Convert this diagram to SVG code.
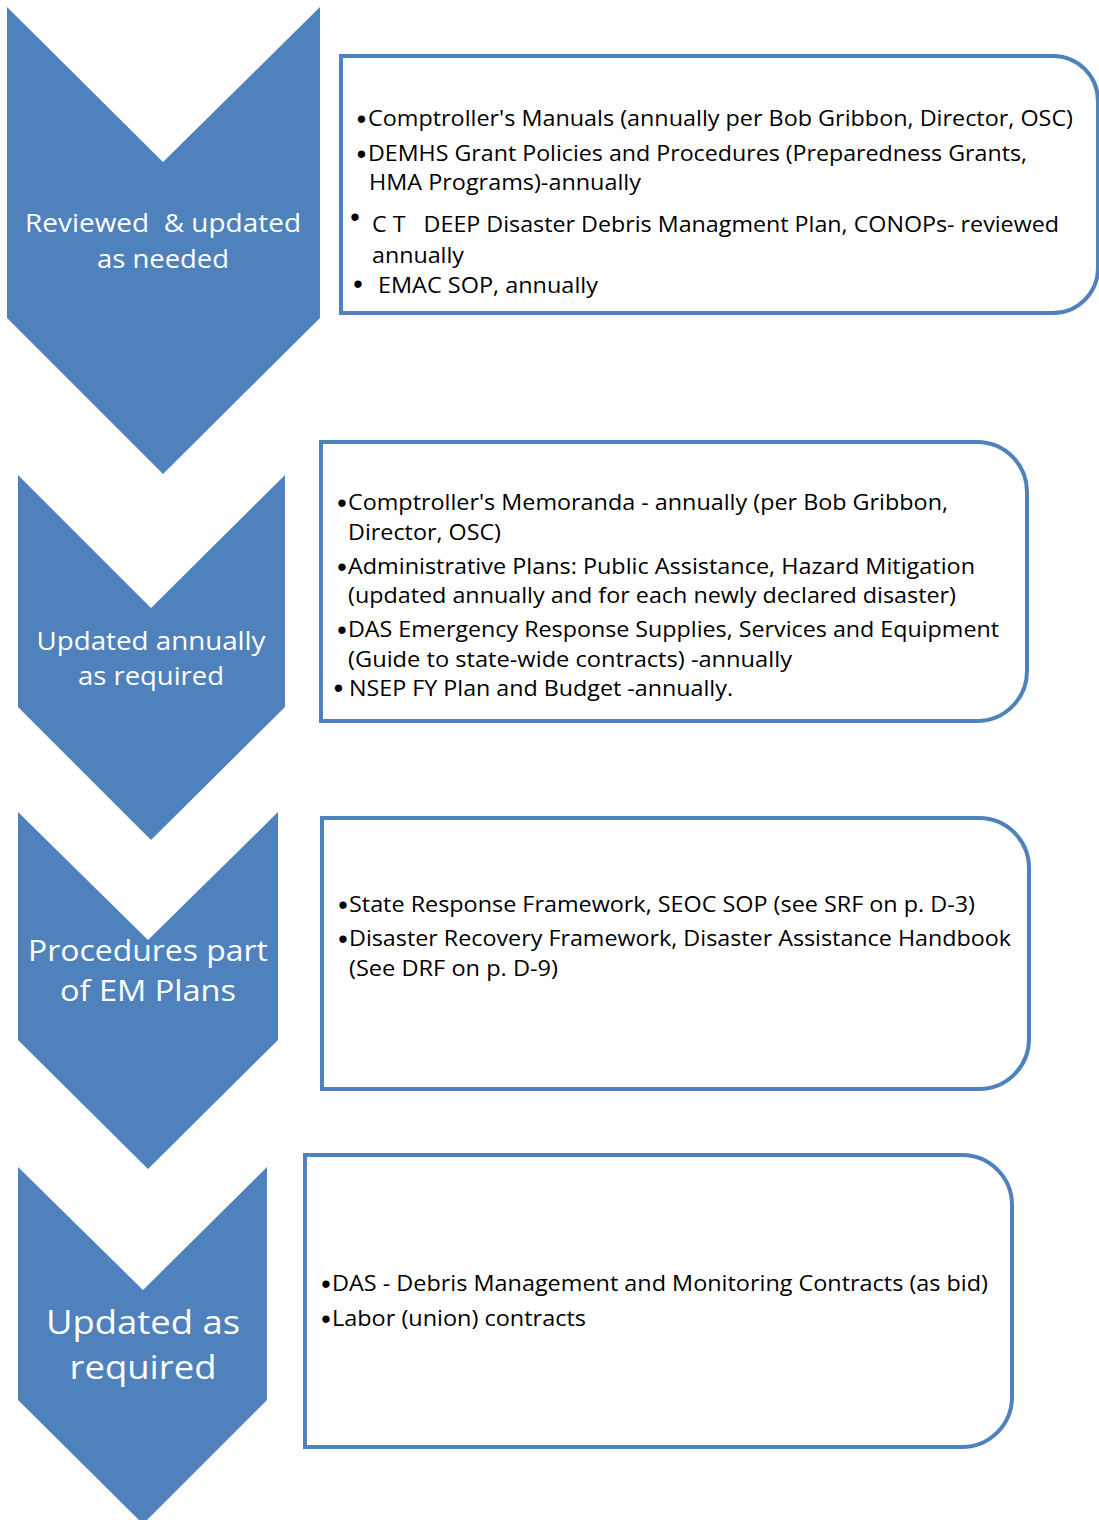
<svg xmlns="http://www.w3.org/2000/svg" width="1099" height="1520" viewBox="0 0 1099 1520">
<style>
.chev{fill:#4F81BD;stroke:none}
.box{fill:#FFFFFF;stroke:#4F81BD;stroke-width:4}
.ct{font-family:"Open Sans","Liberation Sans",sans-serif;fill:#FFFFFF;text-anchor:middle;white-space:pre}
.bt{font-family:"Open Sans","Liberation Sans",sans-serif;font-size:21.5px;fill:#000000;white-space:pre}
.bu{font-family:"Liberation Sans",Arial,sans-serif;font-size:27px;fill:#000000;text-anchor:middle}
</style>
<rect width="1099" height="1520" fill="#FFFFFF"/>
<g id="chevron1">
<polygon class="chev" points="7,7 163,162 320,7 320,318 163,474 7,318"/>
<text class="ct" font-size="25" x="163" y="232" textLength="276" lengthAdjust="spacingAndGlyphs">Reviewed  &amp; updated</text>
<text class="ct" font-size="25" x="163" y="268" textLength="132" lengthAdjust="spacingAndGlyphs">as needed</text>
</g>
<g id="box1">
<path class="box" d="M341,56 H1053 A45,45 0 0 1 1098,101 V268 A45,45 0 0 1 1053,313 H341 Z"/>
<text class="bu" x="361.5" y="127.5">•</text>
<text class="bt" x="368" y="126" textLength="705" lengthAdjust="spacingAndGlyphs">Comptroller's Manuals (annually per Bob Gribbon, Director, OSC)</text>
<text class="bu" x="361.5" y="162.5">•</text>
<text class="bt" x="368" y="161" textLength="659" lengthAdjust="spacingAndGlyphs">DEMHS Grant Policies and Procedures (Preparedness Grants,</text>
<text class="bt" x="369" y="190" textLength="272" lengthAdjust="spacingAndGlyphs">HMA Programs)-annually</text>
<text class="bu" x="355" y="225.5">•</text>
<text class="bt" x="372" y="232" textLength="687" lengthAdjust="spacingAndGlyphs">C T   DEEP Disaster Debris Managment Plan, CONOPs- reviewed</text>
<text class="bt" x="372" y="263" textLength="92" lengthAdjust="spacingAndGlyphs">annually</text>
<text class="bu" x="358" y="292.5">•</text>
<text class="bt" x="378" y="293" textLength="220" lengthAdjust="spacingAndGlyphs">EMAC SOP, annually</text>
</g>
<g id="chevron2">
<polygon class="chev" points="18,475 151,608 285,475 285,707 151,840 18,707"/>
<text class="ct" font-size="25" x="151" y="650" textLength="229" lengthAdjust="spacingAndGlyphs">Updated annually</text>
<text class="ct" font-size="25" x="151" y="685" textLength="146" lengthAdjust="spacingAndGlyphs">as required</text>
</g>
<g id="box2">
<path class="box" d="M321,442 H977 A50,50 0 0 1 1027,492 V671 A50,50 0 0 1 977,721 H321 Z"/>
<text class="bu" x="342" y="511.5">•</text>
<text class="bt" x="348" y="510" textLength="600" lengthAdjust="spacingAndGlyphs">Comptroller's Memoranda - annually (per Bob Gribbon,</text>
<text class="bt" x="348" y="540" textLength="153" lengthAdjust="spacingAndGlyphs">Director, OSC)</text>
<text class="bu" x="342" y="575.5">•</text>
<text class="bt" x="348" y="574" textLength="627" lengthAdjust="spacingAndGlyphs">Administrative Plans: Public Assistance, Hazard Mitigation</text>
<text class="bt" x="348" y="603" textLength="608" lengthAdjust="spacingAndGlyphs">(updated annually and for each newly declared disaster)</text>
<text class="bu" x="342" y="638.5">•</text>
<text class="bt" x="348" y="637" textLength="651" lengthAdjust="spacingAndGlyphs">DAS Emergency Response Supplies, Services and Equipment</text>
<text class="bt" x="348" y="667" textLength="444" lengthAdjust="spacingAndGlyphs">(Guide to state-wide contracts) -annually</text>
<text class="bu" x="338.5" y="696.5">•</text>
<text class="bt" x="349" y="696" textLength="384" lengthAdjust="spacingAndGlyphs">NSEP FY Plan and Budget -annually.</text>
</g>
<g id="chevron3">
<polygon class="chev" points="18,812 148,940 278,812 278,1040 148,1169 18,1040"/>
<text class="ct" font-size="29" x="148" y="961" textLength="240" lengthAdjust="spacingAndGlyphs">Procedures part</text>
<text class="ct" font-size="29" x="148" y="1001" textLength="176" lengthAdjust="spacingAndGlyphs">of EM Plans</text>
</g>
<g id="box3">
<path class="box" d="M322,818 H979 A50,50 0 0 1 1029,868 V1039 A50,50 0 0 1 979,1089 H322 Z"/>
<text class="bu" x="343" y="913.5">•</text>
<text class="bt" x="349" y="912" textLength="626" lengthAdjust="spacingAndGlyphs">State Response Framework, SEOC SOP (see SRF on p. D-3)</text>
<text class="bu" x="343" y="947.5">•</text>
<text class="bt" x="349" y="946" textLength="662" lengthAdjust="spacingAndGlyphs">Disaster Recovery Framework, Disaster Assistance Handbook</text>
<text class="bt" x="349" y="976" textLength="209" lengthAdjust="spacingAndGlyphs">(See DRF on p. D-9)</text>
</g>
<g id="chevron4">
<polygon class="chev" points="18,1167 143,1290 267,1167 267,1400 143,1524 18,1400"/>
<text class="ct" font-size="32" x="143" y="1334" textLength="194" lengthAdjust="spacingAndGlyphs">Updated as</text>
<text class="ct" font-size="32" x="143" y="1379" textLength="147" lengthAdjust="spacingAndGlyphs">required</text>
</g>
<g id="box4">
<path class="box" d="M305,1155 H962 A50,50 0 0 1 1012,1205 V1397 A50,50 0 0 1 962,1447 H305 Z"/>
<text class="bu" x="326" y="1292.5">•</text>
<text class="bt" x="332" y="1291" textLength="656" lengthAdjust="spacingAndGlyphs">DAS - Debris Management and Monitoring Contracts (as bid)</text>
<text class="bu" x="326" y="1327.5">•</text>
<text class="bt" x="332" y="1326" textLength="254" lengthAdjust="spacingAndGlyphs">Labor (union) contracts</text>
</g>
<g id="connectors"></g>
</svg>
